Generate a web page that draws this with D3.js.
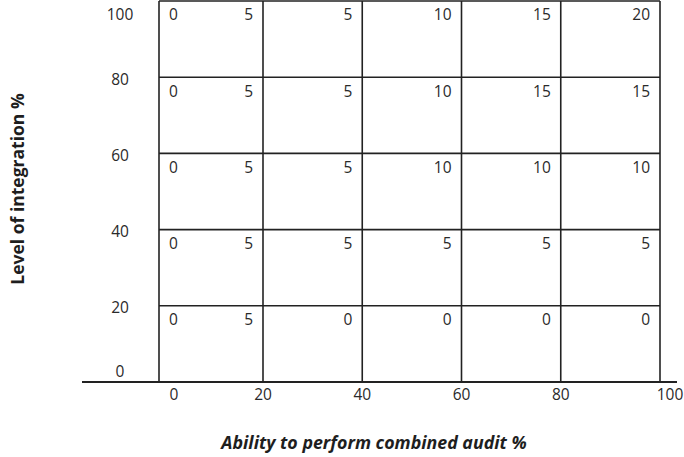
<!DOCTYPE html>
<html>
<head>
<meta charset="utf-8">
<script src="https://cdn.jsdelivr.net/npm/d3@7"></script>
<style>
  body { margin: 0; background: #fff; }
  text { font-family: "Open Sans", Lato, sans-serif; fill: #2a2a2a; }
</style>
</head>
<body>
<div id="chart"></div>
<script>
// tick values on both axes
const xTicks = [0, 20, 40, 60, 80, 100]
const yTicks = [0, 20, 40, 60, 80, 100]

// the number rows, one per integration level, read left to right
const rowLevels = [100, 80, 60, 40, 20]
const row100 = [0, 5, 5, 10, 15, 20]
const row80 = [0, 5, 5, 10, 15, 15]
const row60 = [0, 5, 5, 10, 10, 10]
const row40 = [0, 5, 5, 5, 5, 5]
const row20 = [0, 5, 0, 0, 0, 0]
const rows = [row100, row80, row60, row40, row20]

const xTitle = "Ability to perform combined audit %"
const yTitle = "Level of integration %"

const width = 684, height = 457

var svg = d3.select("#chart").append("svg")
      .attr("width", width)
      .attr("height", height)

// first column of the table is a bit wider than the rest
const xScale = d3.scaleLinear()
  .domain([0, 20, 100])
  .range([159, 263, 660])

const yScale = d3.scaleLinear()
  .domain([0, 100])
  .range([382, 1])

const lineColor = "#222"
const numSize = 15.5

var grid = svg.append("g")

// horizontal rules
grid.selectAll(".hline")
      .data(yTicks.filter(d => d > 0))
      .enter().append("line")
      .attr("x1", xScale(0))
      .attr("x2", xScale(100))
      .attr("y1", d => yScale(d))
      .attr("y2", d => yScale(d))
      .attr("stroke", lineColor)
      .attr("stroke-width", 1.6)

// vertical rules
grid.selectAll(".vline")
      .data(xTicks)
      .enter().append("line")
      .attr("x1", d => xScale(d))
      .attr("x2", d => xScale(d))
      .attr("y1", yScale(0))
      .attr("y2", yScale(100))
      .attr("stroke", lineColor)
      .attr("stroke-width", 1.6)

// the base line
svg.append("line")
      .attr("x1", 82).attr("x2", 677)
      .attr("y1", yScale(0)).attr("y2", yScale(0))
      .attr("stroke", lineColor)
      .attr("stroke-width", 1.8)

// cell numbers
for (let i = 0; i < rows.length; i++) {
      svg.append("g").selectAll("text")
            .data(rows[i])
            .enter().append("text")
            .attr("x", (d, j) => j == 0 ? xScale(xTicks[j]) + 10 : xScale(xTicks[j]) - 10)
            .attr("y", yScale(rowLevels[i]) + 14)
            .attr("dy", "0.35em")
            .attr("text-anchor", (d, j) => j == 0 ? "start" : "end")
            .attr("font-size", numSize)
            .text(d => d)
}

// y tick labels
svg.append("g").selectAll("text")
      .data(yTicks)
      .enter().append("text")
      .attr("x", 120)
      .attr("y", d => yScale(d) + (d == 100 ? 14 : d == 0 ? -10 : 2))
      .attr("dy", "0.35em")
      .attr("text-anchor", "middle")
      .attr("font-size", numSize)
      .text(d => d)

// x tick labels
svg.append("g").selectAll("text")
      .data(xTicks)
      .enter().append("text")
      .attr("x", d => xScale(d) + (d == 0 ? 15 : d == 100 ? 10 : 0))
      .attr("y", 395)
      .attr("dy", "0.35em")
      .attr("text-anchor", "middle")
      .attr("font-size", numSize)
      .text(d => d)

// axis titles
svg.append("text")
      .attr("x", 374)
      .attr("y", 443)
      .attr("dy", "0.35em")
      .attr("text-anchor", "middle")
      .attr("font-size", 17.8)
      .attr("font-weight", "bold")
      .attr("font-style", "italic")
      .style("fill", "#1e1e1e")
      .text(xTitle)

svg.append("text")
      .attr("transform", "translate(18,189) rotate(-90)")
      .attr("dy", "0.35em")
      .attr("text-anchor", "middle")
      .attr("font-size", 17.5)
      .attr("font-weight", "bold")
      .style("fill", "#1e1e1e")
      .text(yTitle)
</script>
</body>
</html>
